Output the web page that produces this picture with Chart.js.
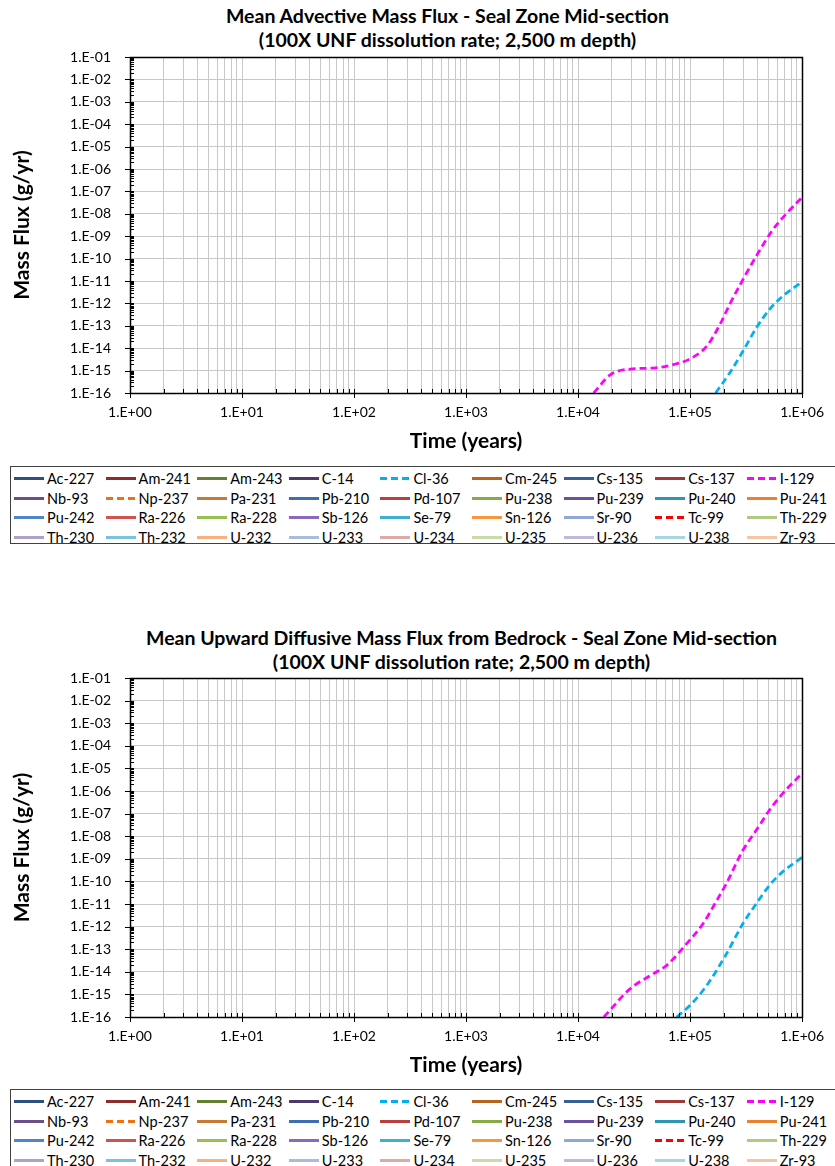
<!DOCTYPE html>
<html>
<head>
<meta charset="utf-8">
<script src="https://cdn.jsdelivr.net/npm/chart.js@4"></script>
<style>
  body { margin: 0; background: #fff; font-family: Lato, "Liberation Sans", sans-serif; }
  .page { position: relative; width: 835px; height: 1166px; overflow: hidden; }
  canvas { position: absolute; left: 0; }
  .title { position: absolute; width: 835px; text-align: center; font-weight: bold; font-size: 19.5px; line-height: 24px; color: #000; white-space: nowrap; }
  .legend { position: absolute; left: 10px; width: 840px; border: 1px solid #404040; background: #fff; box-sizing: border-box; padding: 3px 0 0 5px; }
  .legend .item { position: absolute; display: flex; align-items: center; font-size: 14.5px; color: #000; height: 19px; white-space: nowrap; }
  .legend .swatch { width: 30px; height: 3px; margin-right: 3px; flex: none; }
</style>
</head>
<body>
<div class="page">
  <div class="title" id="title1" style="top:4px;left:30px"></div>
  <canvas id="advChart" width="835" height="460" style="top:0"></canvas>
  <div class="legend" id="legend1" style="top:466px;height:78px"></div>

  <div class="title" id="title2" style="top:626px;left:44px"></div>
  <canvas id="difChart" width="835" height="460" style="top:624px"></canvas>
  <div class="legend" id="legend2" style="top:1089px;height:90px"></div>
</div>
<script>
// nuclides in legend order, with line colours
const nuclides = [
  'Ac-227', 'Am-241', 'Am-243', 'C-14', 'Cl-36', 'Cm-245', 'Cs-135', 'Cs-137', 'I-129',
  'Nb-93', 'Np-237', 'Pa-231', 'Pb-210', 'Pd-107', 'Pu-238', 'Pu-239', 'Pu-240', 'Pu-241',
  'Pu-242', 'Ra-226', 'Ra-228', 'Sb-126', 'Se-79', 'Sn-126', 'Sr-90', 'Tc-99', 'Th-229',
  'Th-230', 'Th-232', 'U-232', 'U-233', 'U-234', 'U-235', 'U-236', 'U-238', 'Zr-93'
];
const nuclideColors = [
  '#2f4f7f', '#8b2e2b', '#647f32', '#4e3a6a', '#00b0f0', '#b5651d', '#35609a', '#a03a37', '#ff00ff',
  '#6a4f8a', '#f07010', '#c77a36', '#3e6db0', '#b8403d', '#88aa44', '#6a52a0', '#2e95b2', '#e8822e',
  '#4f86c8', '#d05350', '#98c050', '#8a6abf', '#40afcf', '#f99540', '#8fa8d8', '#ff0000', '#afcb80',
  '#b0a0cc', '#7cc2da', '#f9b080', '#a8bce0', '#ddaaa8', '#c8dba8', '#c3b8d8', '#a8d5e2', '#f8c4a8'
];
const dashedNuclides = ['Cl-36', 'I-129', 'Np-237', 'Tc-99'];

// advective flux (g/yr) vs time (years)
const advI129Time = [1.38e4, 1.95e4, 2.93e4, 4.9e4, 7.1e4, 9.7e4, 1.41e5, 1.85e5, 2.26e5, 2.97e5, 3.91e5, 5.5e5, 7.2e5, 1e6];
const advI129Flux = [1e-16, 6.6e-16, 1.17e-15, 1.32e-15, 1.86e-15, 3.1e-15, 1.23e-14, 1.15e-13, 9.1e-13, 1.17e-11, 1.32e-10, 2.0e-9, 9.8e-9, 5.4e-8];
const advCl36Time = [1.69e5, 2.26e5, 2.97e5, 3.91e5, 5.13e5, 6.73e5, 1e6];
const advCl36Flux = [1e-16, 7.9e-16, 7.4e-15, 8.1e-14, 5.4e-13, 2.1e-12, 9.1e-12];

// upward diffusive flux from bedrock
const difI129Time = [1.7e4, 2.93e4, 4.73e4, 6.21e4, 9.33e4, 1.31e5, 1.67e5, 2.11e5, 2.97e5, 3.91e5, 5.13e5, 6.73e5, 1e6];
const difI129Flux = [1e-16, 1.8e-15, 8.3e-15, 1.95e-14, 1.78e-13, 1.38e-12, 1.05e-11, 8.1e-11, 2.45e-9, 1.86e-8, 1.45e-7, 7.9e-7, 6.0e-6];
const difCl36Time = [7.6e4, 1.0e5, 1.41e5, 2.04e5, 2.97e5, 3.91e5, 5.13e5, 6.73e5, 1e6];
const difCl36Flux = [1e-16, 3.3e-16, 2.5e-15, 4.6e-14, 1.38e-12, 1.05e-11, 6.8e-11, 2.7e-10, 1.15e-9];

// axes
const xDecades = [1, 10, 100, 1000, 1e4, 1e5, 1e6];
const xTickLabels = ['1.E+00', '1.E+01', '1.E+02', '1.E+03', '1.E+04', '1.E+05', '1.E+06'];
const yDecades = [1e-16, 1e-15, 1e-14, 1e-13, 1e-12, 1e-11, 1e-10, 1e-9, 1e-8, 1e-7, 1e-6, 1e-5, 1e-4, 1e-3, 1e-2, 1e-1];
const yTickLabels = ['1.E-16', '1.E-15', '1.E-14', '1.E-13', '1.E-12', '1.E-11', '1.E-10', '1.E-09', '1.E-08',
                     '1.E-07', '1.E-06', '1.E-05', '1.E-04', '1.E-03', '1.E-02', '1.E-01'];
const minorSteps = [2, 3, 4, 5, 6, 7, 8, 9];

const titleAdv = ['Mean Advective Mass Flux - Seal Zone Mid-section', '(100X UNF dissolution rate; 2,500 m depth)'];
const titleDif = ['Mean Upward Diffusive Mass Flux from Bedrock - Seal Zone Mid-section', '(100X UNF dissolution rate; 2,500 m depth)'];

const FONT = 'Lato, "Liberation Sans", sans-serif';

function minorValues(decades) {
  const out = [];
  decades.slice(0, -1).forEach(d => minorSteps.forEach(m => out.push(d * m)));
  return out;
}
const xGridValues = xDecades.concat(minorValues(xDecades)).sort((a, b) => a - b);
const yMinorValues = minorValues(yDecades);

function isDecade(v, list) {
  return list.some(d => Math.abs(v / d - 1) < 1e-6);
}

function pairs(times, flux) {
  return times.map((t, i) => ({ x: t, y: flux[i] }));
}

// frame plus Excel-style tick marks (minor inside, major crossing)
const axisMarks = {
  id: 'axisMarks',
  afterDatasetsDraw(chart) {
    const { ctx, chartArea: a, scales: { x, y } } = chart;
    ctx.save();
    ctx.strokeStyle = '#000';
    ctx.lineWidth = 1;
    ctx.beginPath();
    xGridValues.forEach(v => {
      const px = Math.round(x.getPixelForValue(v)) + 0.5;
      const major = isDecade(v, xDecades);
      ctx.moveTo(px, a.bottom + (major ? 5 : 0));
      ctx.lineTo(px, a.bottom - 4);
    });
    yDecades.forEach(v => {
      const py = Math.round(y.getPixelForValue(v)) + 0.5;
      ctx.moveTo(a.left - 5, py);
      ctx.lineTo(a.left + 4, py);
    });
    yMinorValues.forEach(v => {
      const py = Math.round(y.getPixelForValue(v)) + 0.5;
      ctx.moveTo(a.left, py);
      ctx.lineTo(a.left + 4, py);
    });
    ctx.stroke();
    ctx.lineWidth = 1.5;
    ctx.strokeRect(Math.round(a.left) + 0.5, Math.round(a.top) + 0.5, Math.round(a.width), Math.round(a.height));
    ctx.restore();
  }
};

function buildDatasets(series) {
  return nuclides.map((name, i) => {
    const dashed = dashedNuclides.includes(name);
    return {
      label: name,
      data: series[name] || [],
      borderColor: nuclideColors[i],
      backgroundColor: nuclideColors[i],
      borderWidth: dashed ? 2.75 : 2.5,
      borderDash: dashed ? [7, 4] : [],
      pointRadius: 0,
      fill: false,
      cubicInterpolationMode: 'monotone'
    };
  });
}

function makeChart(canvasId, series, plotTop, plotBottom) {
  const canvas = document.getElementById(canvasId);
  const h = canvas.height;
  return new Chart(canvas, {
    type: 'line',
    data: { datasets: buildDatasets(series) },
    options: {
      responsive: false,
      animation: false,
      devicePixelRatio: 1,
      layout: { padding: { left: 0, right: 29, top: plotTop, bottom: 0 } },
      plugins: { legend: { display: false }, tooltip: { enabled: false }, title: { display: false } },
      scales: {
        x: {
          type: 'logarithmic',
          min: 1,
          max: 1e6,
          afterBuildTicks: s => { s.ticks = xGridValues.map(v => ({ value: v })); },
          afterFit: s => { s.height = h - plotBottom; },
          grid: { color: '#c8c8c8', lineWidth: 1, drawTicks: false },
          border: { display: false },
          ticks: {
            autoSkip: false,
            maxRotation: 0,
            padding: 11,
            color: '#000',
            font: { family: FONT, size: 14 },
            callback: v => {
              const k = xDecades.findIndex(d => Math.abs(v / d - 1) < 1e-6);
              return k >= 0 ? xTickLabels[k] : '';
            }
          },
          title: {
            display: true,
            text: 'Time (years)',
            color: '#000',
            font: { family: FONT, size: 21, weight: 'bold' },
            padding: { bottom: 6 }
          }
        },
        y: {
          type: 'logarithmic',
          min: 1e-16,
          max: 1e-1,
          afterBuildTicks: s => { s.ticks = yDecades.map(v => ({ value: v })); },
          afterFit: s => { s.width = 130; },
          grid: { color: '#c8c8c8', lineWidth: 1, drawTicks: false },
          border: { display: false },
          ticks: {
            autoSkip: false,
            padding: 19,
            color: '#000',
            font: { family: FONT, size: 14 },
            callback: v => {
              const k = yDecades.findIndex(d => Math.abs(v / d - 1) < 1e-6);
              return k >= 0 ? yTickLabels[k] : '';
            }
          },
          title: {
            display: true,
            text: 'Mass Flux (g/yr)',
            color: '#000',
            font: { family: FONT, size: 21, weight: 'bold' },
            padding: { top: 10 }
          }
        }
      }
    },
    plugins: [axisMarks]
  });
}

function fillTitle(id, lines) {
  const el = document.getElementById(id);
  lines.forEach(t => {
    const d = document.createElement('div');
    d.textContent = t;
    el.appendChild(d);
  });
}

function fillLegend(id, chart) {
  const box = document.getElementById(id);
  chart.data.datasets.forEach((ds, i) => {
    const col = i % 9;
    const row = Math.floor(i / 9);
    const item = document.createElement('div');
    item.className = 'item';
    item.style.left = (3 + col * 91.6) + 'px';
    item.style.top = (2 + row * 19.7) + 'px';
    const sw = document.createElement('span');
    sw.className = 'swatch';
    sw.style.background = ds.borderDash.length
      ? 'repeating-linear-gradient(to right, ' + ds.borderColor + ' 0 7px, transparent 7px 11px)'
      : ds.borderColor;
    const label = document.createElement('span');
    label.textContent = ds.label;
    item.appendChild(sw);
    item.appendChild(label);
    box.appendChild(item);
  });
}

const advChart = makeChart('advChart', {
  'Cl-36': pairs(advCl36Time, advCl36Flux),
  'I-129': pairs(advI129Time, advI129Flux)
}, 57, 393);

const difChart = makeChart('difChart', {
  'Cl-36': pairs(difCl36Time, difCl36Flux),
  'I-129': pairs(difI129Time, difI129Flux)
}, 54, 393);

fillTitle('title1', titleAdv);
fillTitle('title2', titleDif);
fillLegend('legend1', advChart);
fillLegend('legend2', difChart);
</script>
</body>
</html>
